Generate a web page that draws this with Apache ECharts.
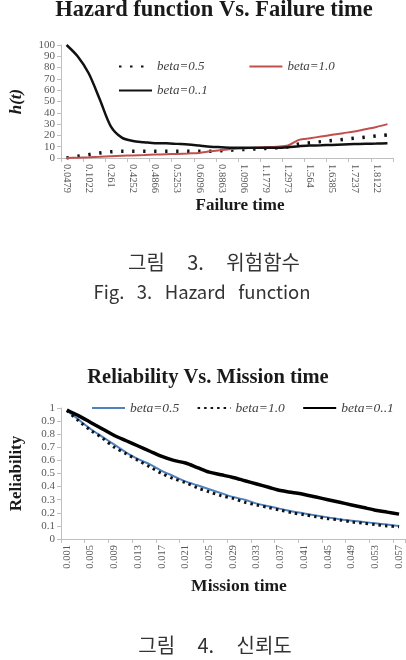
<!DOCTYPE html>
<html>
<head>
<meta charset="utf-8">
<script src="https://cdn.jsdelivr.net/npm/echarts@6/dist/echarts.min.js"></script>
<style>
  html, body { margin: 0; padding: 0; background: #fff; }
  #main { width: 406px; height: 660px; }
</style>
</head>
<body>
<div id="main"></div>
<script>
// hazard chart data (failure time categories, every second one labelled in the picture)
var failureTime = ['0.0479', '0.0735', '0.1022', '0.1844', '0.261', '0.3377', '0.4252', '0.4563',
    '0.4866', '0.5012', '0.5253', '0.5614', '0.6096', '0.7437', '0.8863', '0.9912', '1.0906',
    '1.132', '1.1779', '1.2405', '1.2973', '1.4286', '1.564', '1.6027', '1.6385', '1.6801',
    '1.7237', '1.769', '1.8122', '1.8703'];
var hBeta05 = [0, 1.5, 3, 4.5, 5.5, 6, 6, 6, 6, 6, 6, 6, 6, 6, 6.5, 7, 7.5, 8, 8.5, 9, 10,
    12.5, 13.5, 14.5, 15.5, 16.5, 17.5, 18.5, 19.5, 20.5];
var hBeta10 = [0, 0.3, 0.6, 1, 1.5, 2, 2.3, 2.6, 3, 3.3, 3.6, 4, 4.5, 6, 7, 8, 8.5, 9, 9.5, 10,
    11, 16, 17.5, 19, 20.5, 22, 23.5, 25.5, 27.5, 30];
var hBeta01 = [100, 90, 75, 52, 28, 18, 15, 14, 13, 13, 12.5, 12, 11, 10, 9.5, 9, 9, 9, 9, 9,
    9.5, 10.5, 11, 11.3, 11.6, 12, 12.3, 12.6, 12.8, 13];

// reliability chart data
var missionTime = ['0.001', '0.003', '0.005', '0.007', '0.009', '0.011', '0.013', '0.015',
    '0.017', '0.019', '0.021', '0.023', '0.025', '0.027', '0.029', '0.031', '0.033', '0.035',
    '0.037', '0.039', '0.041', '0.043', '0.045', '0.047', '0.049', '0.051', '0.053', '0.055', '0.057'];
var rBeta05 = [0.98, 0.91, 0.84, 0.78, 0.72, 0.66, 0.61, 0.57, 0.52, 0.48, 0.44, 0.41, 0.38,
    0.35, 0.32, 0.30, 0.27, 0.25, 0.23, 0.21, 0.195, 0.18, 0.165, 0.15, 0.14, 0.13, 0.12, 0.11, 0.10];
var rBeta10 = [0.98, 0.90, 0.83, 0.77, 0.70, 0.65, 0.60, 0.55, 0.50, 0.46, 0.43, 0.39, 0.36,
    0.33, 0.31, 0.28, 0.26, 0.24, 0.22, 0.20, 0.185, 0.17, 0.155, 0.145, 0.13, 0.12, 0.11, 0.10, 0.093];
var rBeta01 = [0.985, 0.94, 0.89, 0.84, 0.79, 0.75, 0.71, 0.67, 0.63, 0.60, 0.58, 0.545, 0.51,
    0.49, 0.47, 0.445, 0.42, 0.395, 0.37, 0.355, 0.34, 0.32, 0.30, 0.28, 0.26, 0.24, 0.22, 0.205, 0.19];

var serif = 'Liberation Serif';
var sans = '"Noto Sans CJK KR", "Noto Sans", sans-serif';
var axisGray = '#bfbfbf';
var labelGray = '#595959';

function txt(x, y, text, size, font, weight, color) {
    return {
        type: 'text', x: x, y: y,
        style: {
            text: text, fontSize: size, fontFamily: font, fontWeight: weight || 'normal',
            fill: color || '#1a1a1a', align: 'center', verticalAlign: 'middle'
        }
    };
}

function yAxisOf(grid, max, interval, name, italic) {
    return {
        type: 'value', gridIndex: grid, min: 0, max: max, interval: interval,
        name: name, nameLocation: 'middle', nameGap: 36, nameRotate: 90,
        nameTextStyle: { fontFamily: serif, fontWeight: 'bold', fontStyle: italic ? 'italic' : 'normal', fontSize: 17, color: '#1a1a1a' },
        axisLine: { show: true, lineStyle: { color: axisGray } },
        axisTick: { show: true, length: 4, lineStyle: { color: axisGray } },
        splitLine: { show: false },
        axisLabel: { fontFamily: serif, fontSize: 11, color: labelGray, margin: 6 }
    };
}

function xAxisOf(grid, data, rotate) {
    return {
        type: 'category', gridIndex: grid, data: data, boundaryGap: true,
        axisLine: { lineStyle: { color: axisGray } },
        axisTick: { show: true, interval: 1, length: 4, lineStyle: { color: axisGray } },
        axisLabel: { interval: 1, rotate: rotate, fontFamily: serif, fontSize: 10.5, color: labelGray, margin: 6 }
    };
}

var legendText = { fontFamily: serif, fontStyle: 'italic', fontSize: 13, color: '#404040' };
var noMarker = { opacity: 0 };

var myChart = echarts.init(document.getElementById('main'));
var option = {
    backgroundColor: '#fff',
    animation: false,
    grid: [
        { left: 54, right: 13, top: 45, bottom: 502 },
        { left: 60, right: 1, top: 408, bottom: 121 }
    ],
    legend: [
        { data: ['beta=0.5', 'beta=1.0'], left: 113, top: 55, itemWidth: 33, itemHeight: 10, itemGap: 44,
          itemStyle: noMarker, textStyle: legendText },
        { data: ['beta=0..1'], left: 113, top: 79, itemWidth: 33, itemHeight: 10, itemStyle: noMarker, textStyle: legendText },
        { data: ['beta=0.5 ', 'beta=1.0 ', 'beta=0..1 '], left: 86, top: 396, itemWidth: 33, itemHeight: 10, itemGap: 14,
          itemStyle: noMarker, textStyle: { fontFamily: serif, fontStyle: 'italic', fontSize: 13.5, color: '#404040' } }
    ],
    xAxis: [xAxisOf(0, failureTime, -90), xAxisOf(1, missionTime, 90)],
    yAxis: [yAxisOf(0, 100, 10, 'h(t)', true), yAxisOf(1, 1, 0.1, 'Reliability', false)],
    series: [
        { name: 'beta=0.5', type: 'line', xAxisIndex: 0, yAxisIndex: 0, data: hBeta05, symbol: 'none', smooth: 0.3,
          lineStyle: { color: '#111', width: 3.5, type: [2.5, 8.5] }, itemStyle: { color: '#111' } },
        { name: 'beta=1.0', type: 'line', xAxisIndex: 0, yAxisIndex: 0, data: hBeta10, symbol: 'none', smooth: 0.3,
          lineStyle: { color: '#c0504d', width: 2 }, itemStyle: { color: '#c0504d' } },
        { name: 'beta=0..1', type: 'line', xAxisIndex: 0, yAxisIndex: 0, data: hBeta01, symbol: 'none', smooth: 0.3,
          lineStyle: { color: '#111', width: 2.5 }, itemStyle: { color: '#111' } },
        { name: 'beta=0.5 ', type: 'line', xAxisIndex: 1, yAxisIndex: 1, data: rBeta05, symbol: 'none', smooth: 0.3,
          lineStyle: { color: '#4f81bd', width: 2 }, itemStyle: { color: '#4f81bd' } },
        { name: 'beta=1.0 ', type: 'line', xAxisIndex: 1, yAxisIndex: 1, data: rBeta10, symbol: 'none', smooth: 0.3,
          lineStyle: { color: '#111', width: 3, type: [2.5, 4] }, itemStyle: { color: '#111' } },
        { name: 'beta=0..1 ', type: 'line', xAxisIndex: 1, yAxisIndex: 1, data: rBeta01, symbol: 'none', smooth: 0.3,
          lineStyle: { color: '#000', width: 3.5 }, itemStyle: { color: '#000' } }
    ],
    graphic: [
        txt(214, 10, 'Hazard function Vs. Failure time', 22.5, serif, 'bold'),
        txt(240, 206, 'Failure time', 17, serif, 'bold'),
        txt(214, 262, '그림     3.     위험함수', 20, sans, 'normal', '#333'),
        txt(202, 292, 'Fig.   3.   Hazard   function', 18.5, sans, 'normal', '#333'),
        txt(208, 378, 'Reliability Vs. Mission time', 20.5, serif, 'bold'),
        txt(239, 586, 'Mission time', 17.5, serif, 'bold'),
        txt(215, 645, '그림     4.     신뢰도', 20, sans, 'normal', '#333')
    ]
};
myChart.setOption(option);
</script>
</body>
</html>
